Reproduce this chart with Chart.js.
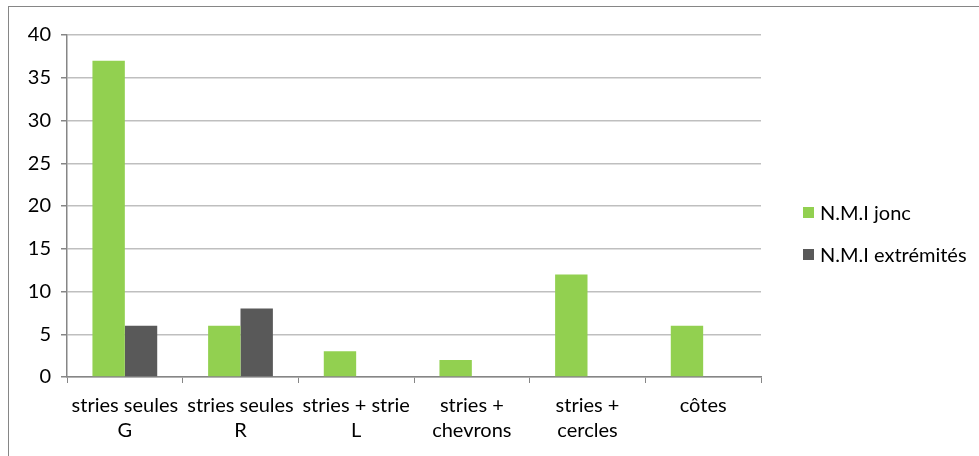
<!DOCTYPE html>
<html>
<head>
<meta charset="utf-8">
<script src="https://cdn.jsdelivr.net/npm/chart.js@4.4.0/dist/chart.umd.min.js"></script>
<style>
  html, body { margin: 0; padding: 0; background: #fff; }
  #wrap { position: relative; width: 979px; height: 456px; overflow: hidden; }
  #frame { position: absolute; left: 8px; top: 6px; width: 1200px; height: 800px; border: 1px solid #868686; }
  canvas { position: absolute; left: 0; top: 0; }
  #legend { position: absolute; left: 803px; top: 199px; font-family: Lato, sans-serif; font-size: 20px; color: #000; }
  #legend .item { display: flex; align-items: center; height: 26px; margin-bottom: 16px; }
  #legend .sw { width: 11px; height: 11px; margin-right: 6px; }
</style>
</head>
<body>
<div id="wrap">
  <div id="frame"></div>
  <canvas id="c" width="979" height="456"></canvas>
  <div id="legend"></div>
</div>
<script>
  /* values */
  const categories = [
    ['stries seules', 'G'],
    ['stries seules', 'R'],
    ['stries + strie', 'L'],
    ['stries +', 'chevrons'],
    ['stries +', 'cercles'],
    'côtes'
  ];
  const seriesNames = ['N.M.I jonc', 'N.M.I extrémités'];
  const jonc = [37, 6, 3, 2, 12, 6];
  const extremites = [6, 8, 0, 0, 0, 0];
  const colors = ['#92D050', '#595959'];

  const FONT = 'Lato, sans-serif';
  const AXIS = '#868686';
  const GRID = '#BFBFBF';

  const chart = new Chart(document.getElementById('c'), {
    type: 'bar',
    data: {
      labels: categories,
      datasets: [
        { label: seriesNames[0], data: jonc, backgroundColor: colors[0] },
        { label: seriesNames[1], data: extremites, backgroundColor: colors[1] }
      ]
    },
    options: {
      responsive: false,
      animation: false,
      events: [],
      layout: { padding: { left: 0, top: 35, right: 218, bottom: 0 } },
      datasets: { bar: { categoryPercentage: 0.56, barPercentage: 1.0 } },
      plugins: { legend: { display: false }, tooltip: { enabled: false } },
      scales: {
        x: {
          offset: true,
          grid: { offset: true, drawOnChartArea: false, drawTicks: true, tickLength: 6, color: AXIS, tickColor: AXIS },
          border: { color: AXIS, width: 1.5 },
          ticks: { color: '#000', font: { family: FONT, size: 20, lineHeight: 1.25 }, padding: 10, maxRotation: 0, autoSkip: false },
          afterFit: s => { s.height = 79; }
        },
        y: {
          min: 0, max: 40,
          ticks: { stepSize: 5, color: '#000', font: { family: FONT, size: 20 }, padding: 10 },
          grid: { color: GRID, tickColor: AXIS, tickLength: 6, lineWidth: 1.5 },
          border: { color: AXIS, width: 1.5 },
          afterFit: s => { s.width = 67; }
        }
      }
    }
  });

  /* legend in HTML, built from the datasets */
  const lg = document.getElementById('legend');
  chart.data.datasets.forEach(ds => {
    const it = document.createElement('div');
    it.className = 'item';
    it.innerHTML = '<span class="sw" style="background:' + ds.backgroundColor + '"></span><span>' + ds.label + '</span>';
    lg.appendChild(it);
  });
</script>
</body>
</html>
